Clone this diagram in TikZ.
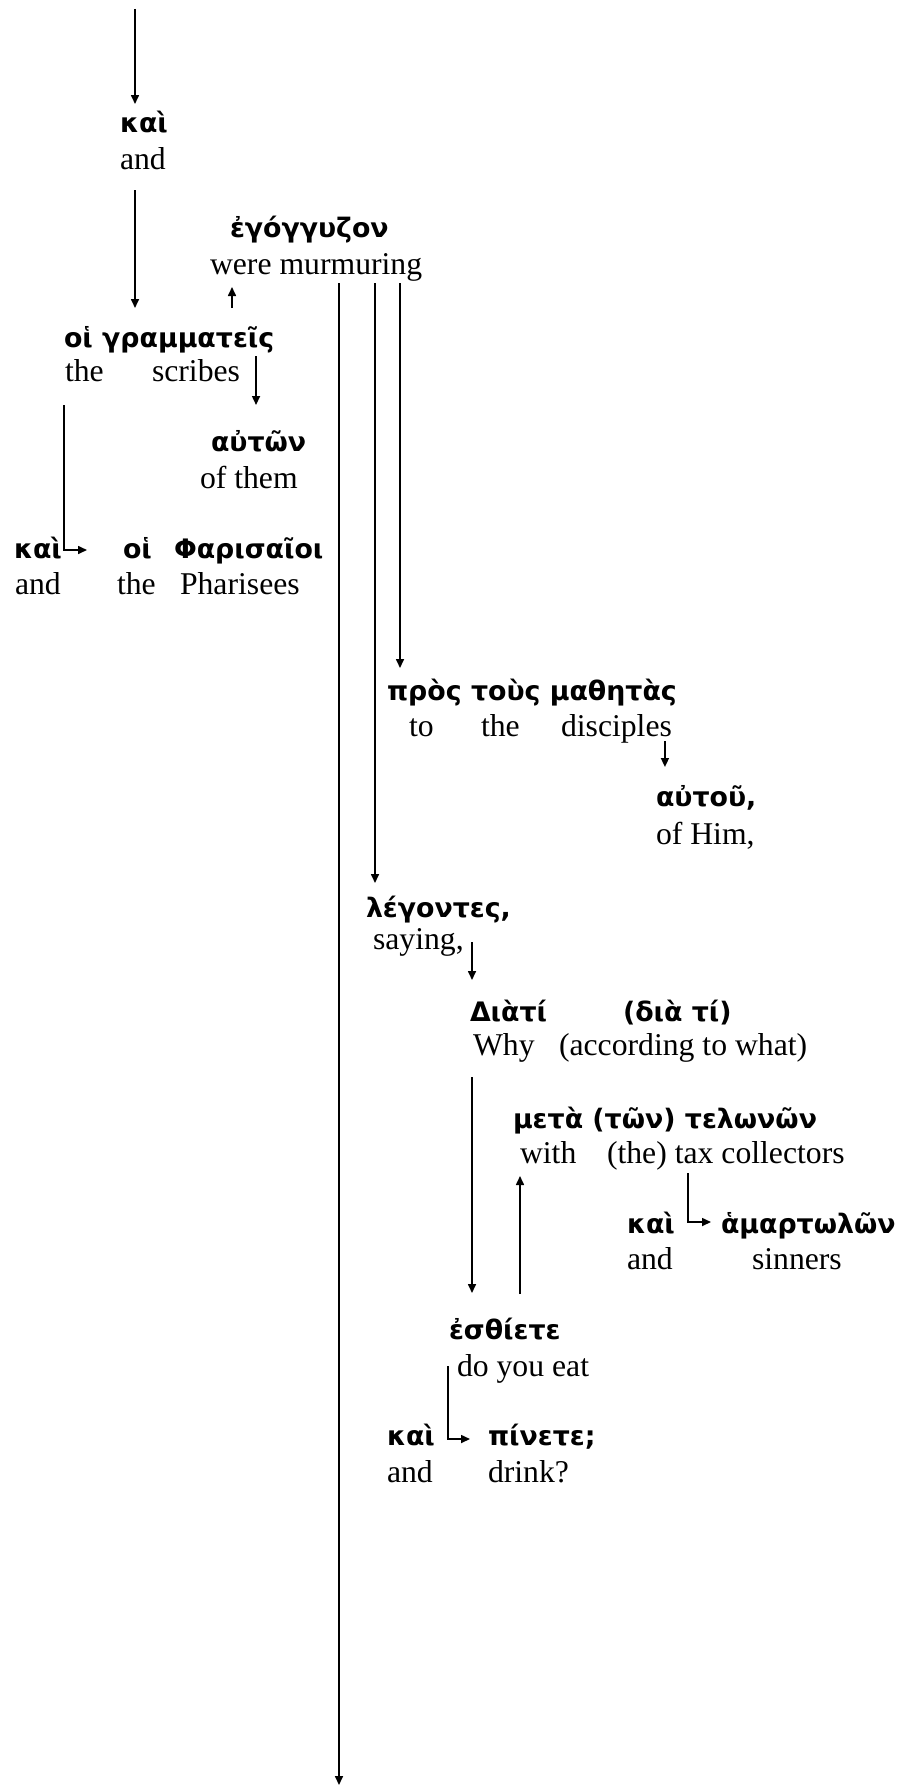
\documentclass[tikz,border=0pt]{standalone}
\usepackage{fontspec}
\setmainfont{Liberation Serif}
\newfontfamily\gkfont{DejaVu Sans}
\usetikzlibrary{arrows.meta,calc}
\tikzset{
  gk/.style={anchor=base west,inner sep=0pt,outer sep=0pt,font=\gkfont\bfseries\fontsize{26.8}{32}\selectfont},
  en/.style={anchor=base west,inner sep=0pt,outer sep=0pt,font=\fontsize{31.7}{38}\selectfont},
  arr/.style={line width=1.6pt,-{Triangle[length=9pt,width=8pt]}},
  ln/.style={line width=1.6pt}
}
\begin{document}
\begin{tikzpicture}[x=1pt,y=-1pt]
\useasboundingbox (0,0) rectangle (898,1785);
% Greek rows
\node[gk] (g1) at (120,132) {καὶ};
\node[en] (e1) at (120,169) {and};
\node[gk] (g2) at (230,237) {ἐγόγγυζον};
\node[en] (e2) at (210,274) {were murmuring};
\node[gk] (g3) at (64,347) {οἱ γραμματεῖς};
\node[en] (e3a) at (65,381) {the};
\node[en] (e3b) at (152,381) {scribes};
\node[gk] (g4) at (211,451) {αὐτῶν};
\node[en] (e4) at (200,488) {of them};
\node[gk] (g5a) at (14,558) {καὶ};
\node[gk] (g5b) at (123,558) {οἱ};
\node[gk] (g5c) at (174,558) {Φαρισαῖοι};
\node[en] (e5a) at (15,594) {and};
\node[en] (e5b) at (117,594) {the};
\node[en] (e5c) at (180,594) {Pharisees};
\node[gk] (g6) at (387,700) {πρὸς τοὺς μαθητὰς};
\node[en] (e6a) at (409,736) {to};
\node[en] (e6b) at (481,736) {the};
\node[en] (e6c) at (561,736) {disciples};
\node[gk] (g7) at (656,806) {αὐτοῦ,};
\node[en] (e7) at (656,844) {of Him,};
\node[gk] (g8) at (366,917) {λέγοντες,};
\node[en] (e8) at (373,949) {saying,};
\node[gk] (g9a) at (470,1021) {Διὰτί};
\node[gk] (g9b) at (623,1021) {(διὰ τί)};
\node[en] (e9a) at (473,1055) {Why};
\node[en] (e9b) at (559,1055) {(according to what)};
\node[gk] (g10) at (513,1128) {μετὰ (τῶν) τελωνῶν};
\node[en] (e10a) at (520,1163) {with};
\node[en] (e10b) at (607,1163) {(the) tax collectors};
\node[gk] (g11a) at (627,1233) {καὶ};
\node[gk] (g11b) at (721,1233) {ἁμαρτωλῶν};
\node[en] (e11a) at (627,1269) {and};
\node[en] (e11b) at (752,1269) {sinners};
\node[gk] (g12) at (449,1339) {ἐσθίετε};
\node[en] (e12) at (457,1376) {do you eat};
\node[gk] (g13a) at (387,1445) {καὶ};
\node[gk] (g13b) at (488,1445) {πίνετε;};
\node[en] (e13a) at (387,1482) {and};
\node[en] (e13b) at (488,1482) {drink?};
% free ends
\coordinate (s0) at (135,9);
\coordinate (bot) at (339,1785);
% connectors
\draw[arr] (s0) -- ($(s0 |- g1.base)+(0,-28)$);
\draw[arr] ($(s0 |- e1.base)+(0,21)$) -- ($(s0 |- g3.base)+(0,-39)$);
\draw[arr] ($(g2.base west |- g3.base)+(2,-39)$) -- ($(g2.base west |- e2.base)+(2,13)$);
\draw[arr] ($(e3b.base east)+(16,-25)$) -- ($(e3b.base east |- g4.base)+(16,-46)$);
\draw[arr] ($(e3a.base west)+(-1,24)$) -- ($(e3a.base west |- g5a.base)+(-1,-8)$) -- ($(g5b.base west)+(-36,-8)$);
\draw[arr] ($(bot |- e2.base)+(0,9)$) -- (bot);
\draw[arr] ($(e2.base west)+(165,9)$) -- ($(e2.base west |- g8.base)+(165,-34)$);
\draw[arr] ($(e2.base west)+(190,9)$) -- ($(e2.base west |- g6.base)+(190,-32)$);
\draw[arr] ($(e6c.base east)+(-7,5)$) -- ($(e6c.base east |- g7.base)+(-7,-39)$);
\draw[arr] ($(g9a.base west |- e8.base)+(2,-7)$) -- ($(g9a.base west)+(2,-41)$);
\draw[arr] ($(g9a.base west |- e9a.base)+(2,22)$) -- ($(g9a.base west |- g12.base)+(2,-46)$);
\draw[arr] ($(e10a.base west |- g12.base)+(0,-45)$) -- ($(e10a.base west)+(0,13)$);
\draw[arr] ($(e10b.base west)+(81,10)$) -- ($(e10b.base west |- g11a.base)+(81,-11)$) -- ($(g11b.base west)+(-10,-11)$);
\draw[arr] ($(e12.base west)+(-9,-10)$) -- ($(e12.base west |- g13a.base)+(-9,-6)$) -- ($(g13b.base west)+(-18,-6)$);
\end{tikzpicture}
\end{document}
